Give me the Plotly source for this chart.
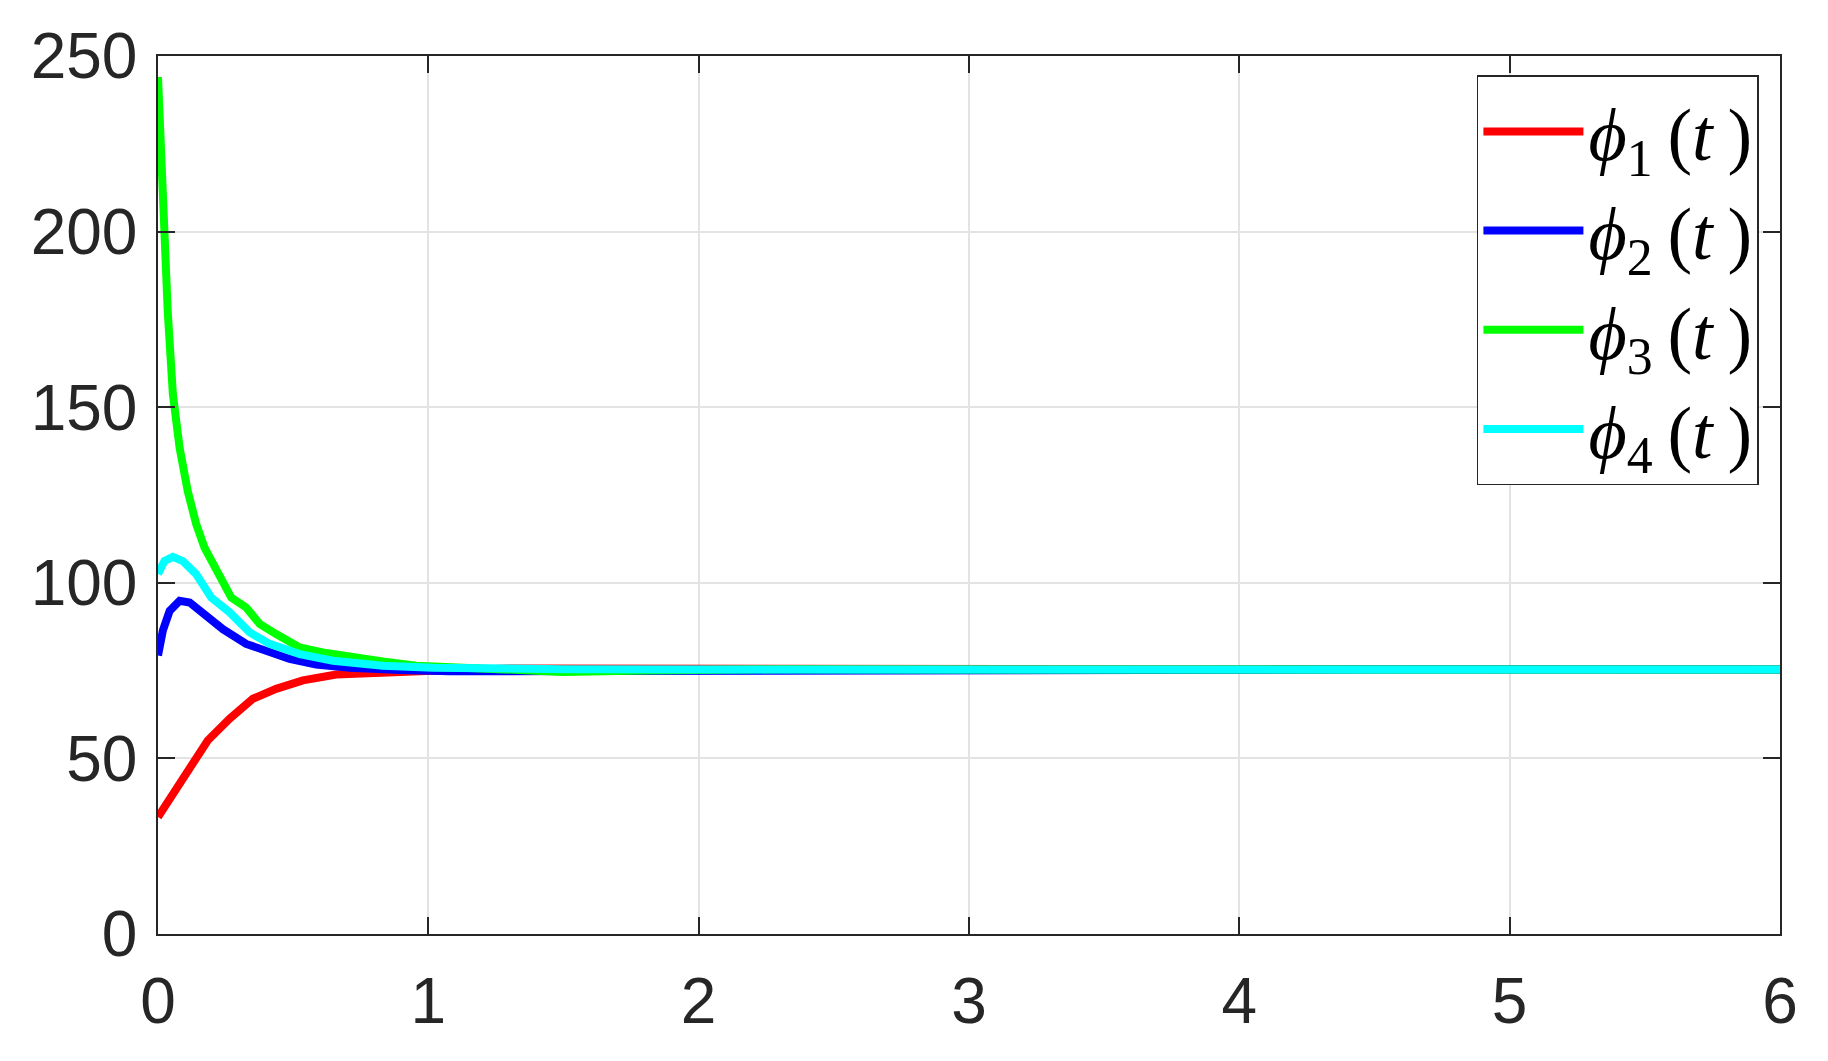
import plotly.graph_objects as go

# time samples and values
t_red = [0, 0.092, 0.184, 0.265, 0.351, 0.437, 0.536, 0.659, 0.807, 0.992, 1.3, 1.8, 2.5, 3.5, 4.5, 6]
phi1 = [33.3, 44.7, 55.1, 61.3, 67.0, 69.8, 72.2, 73.9, 74.5, 74.9, 75.6, 75.6, 75.4, 75.3, 75.3, 75.3]

t_blue = [0, 0.018, 0.043, 0.08, 0.117, 0.166, 0.24, 0.326, 0.413, 0.487, 0.585, 0.709, 0.894, 1.08, 1.6, 2.2, 2.8, 3.4, 4.5, 6]
phi2 = [79.3, 86.4, 92.0, 94.9, 94.4, 91.6, 86.8, 82.6, 80.2, 78.3, 76.7, 75.8, 75.2, 74.8, 74.9, 75.1, 74.8, 75.2, 75.3, 75.3]

t_green = [0, 0.012, 0.024, 0.036, 0.055, 0.08, 0.11, 0.141, 0.172, 0.228, 0.271, 0.326, 0.376, 0.437, 0.474,
           0.524, 0.622, 0.709, 0.831, 0.955, 1.2, 1.5, 1.8, 2.3, 3.0, 4.0, 6]
phi3 = [244.0, 219.9, 199.8, 177.3, 153.7, 138.4, 126.1, 116.8, 110.0, 101.5, 95.8, 93.0, 88.3, 85.4, 84.0,
        81.6, 80.0, 78.8, 77.6, 76.4, 75.5, 74.6, 75.0, 75.4, 75.3, 75.4, 75.3]

t_cyan = [0, 0.024, 0.055, 0.092, 0.141, 0.197, 0.265, 0.339, 0.413, 0.524, 0.647, 0.832, 1.017, 1.5, 2.5, 3.5, 4.5, 6]
phi4 = [102.5, 106.2, 107.4, 106.2, 102.5, 95.8, 91.6, 85.9, 82.6, 79.7, 77.8, 76.4, 75.8, 75.4, 75.3, 75.3, 75.3, 75.3]

series = [
    ("1", t_red, phi1, "#ff0000"),
    ("2", t_blue, phi2, "#0000ff"),
    ("3", t_green, phi3, "#00ff00"),
    ("4", t_cyan, phi4, "#00ffff"),
]

fig = go.Figure()
for idx, t, y, color in series:
    fig.add_trace(
        go.Scatter(
            x=t,
            y=y,
            mode="lines",
            line=dict(color=color, width=8),
            name=f"<i>ϕ</i><sub>{idx}</sub>\u2009(<i>t</i>\u2009)",
        )
    )

axis_common = dict(
    showgrid=True,
    gridcolor="#e3e3e3",
    gridwidth=1.5,
    zeroline=False,
    showline=True,
    linecolor="#262626",
    linewidth=1.5,
    mirror="ticks",
    ticks="inside",
    ticklen=17,
    tickwidth=1.5,
    tickcolor="#262626",
    tickfont=dict(family="Liberation Sans, Arial, sans-serif", size=64, color="#262626"),
)

fig.update_xaxes(range=[0, 6], tickvals=[0, 1, 2, 3, 4, 5, 6], ticklabelstandoff=10, **axis_common)
fig.update_yaxes(range=[0, 250], tickvals=[0, 50, 100, 150, 200, 250], ticklabelstandoff=6, **axis_common)

# the page body adds an 8px margin, so the pixel margins here are trimmed by that much
fig.update_layout(
    autosize=True,
    paper_bgcolor="white",
    plot_bgcolor="white",
    margin=dict(l=150, r=40, t=46, b=119),
    showlegend=True,
    legend=dict(
        x=0.987,
        y=0.978,
        xanchor="right",
        yanchor="top",
        bgcolor="white",
        bordercolor="#262626",
        borderwidth=1.5,
        itemwidth=100,
        font=dict(family="Liberation Serif, DejaVu Serif, serif", size=74, color="black"),
    ),
)

fig.write_html("out.html")
